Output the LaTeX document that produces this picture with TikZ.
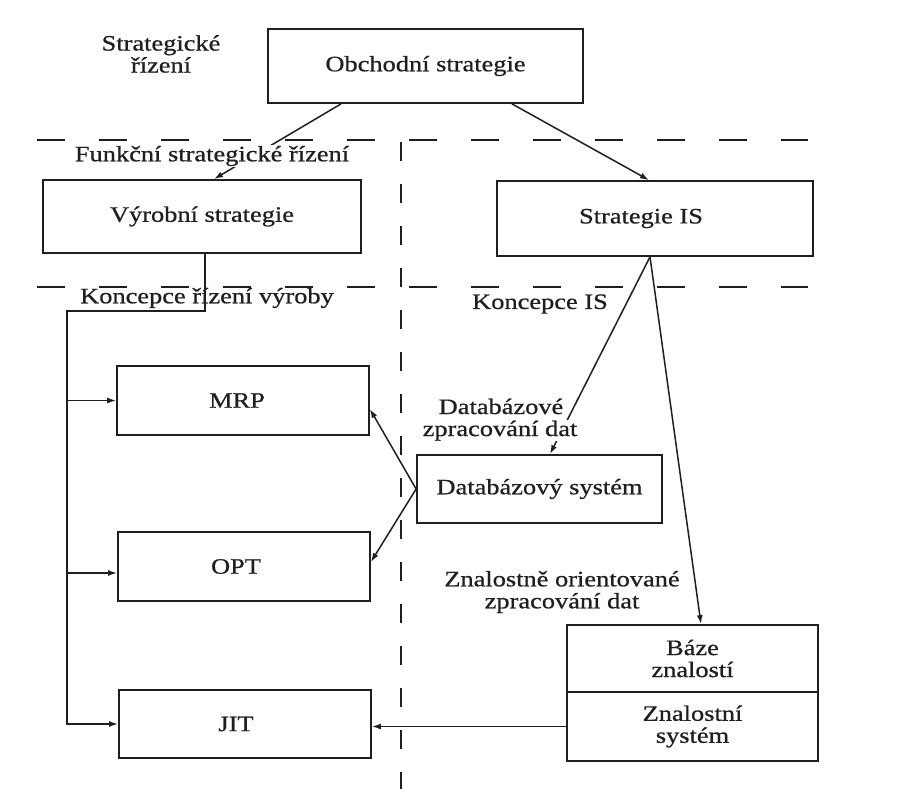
\documentclass[tikz,border=0pt]{standalone}
\usepackage{fontspec}
\setmainfont{Liberation Serif}[FakeStretch=1.2,FakeBold=0.7]
\usetikzlibrary{arrows.meta}
\newcommand\diagfont{\fontsize{22}{22}\selectfont}
\definecolor{ink}{gray}{0.12}
\begin{document}
\begin{tikzpicture}[x=1pt,y=-1pt,
  box/.style={draw=ink, line width=1.8pt, inner sep=0pt, font=\diagfont, text=ink, align=center},
  lbl/.style={inner sep=1pt, font=\diagfont, text=ink, align=center},
  conn/.style={draw=ink, line width=1.5pt},
  arr/.style={conn, -{Latex[length=9pt,width=6pt]}},
  sep/.style={draw=ink, line width=2pt}]
% canvas
\fill[white] (0,0) rectangle (902,789);
\useasboundingbox (0,0) rectangle (902,789);

% boxes
\node[box, minimum width=315pt, minimum height=74pt] (obch) at (425.5,66) {Obchodní strategie};
\node[box, minimum width=318pt, minimum height=73pt] (vyr) at (202,216.5) {Výrobní strategie};
\node[box, minimum width=316pt, minimum height=75pt] (isstr) at (655,218.5) {\hspace*{-28pt}Strategie IS};
\node[box, minimum width=252pt, minimum height=69pt] (mrp) at (243,400.5) {\hspace*{-12pt}MRP};
\node[box, minimum width=252pt, minimum height=69pt] (opt) at (244,566.5) {\hspace*{-16pt}OPT};
\node[box, minimum width=252pt, minimum height=68pt] (jit) at (245,724) {\hspace*{-18pt}JIT};
\node[box, minimum width=245pt, minimum height=68pt] (dbs) at (539.5,489) {Databázový systém};
\node[box, minimum width=251pt, minimum height=67pt] (kbase) at (692.5,658.5) {Báze\\znalostí};
\node[box, minimum width=251pt, minimum height=69pt] (ksys) at (692.5,726.5) {Znalostní\\systém};

% level separators
\draw[sep, dash pattern=on 28pt off 34pt] (37,140) -- (808,140);
\draw[sep, dash pattern=on 28pt off 34pt] (37,287) -- (808,287);
\draw[sep, dash pattern=on 19pt off 23pt] (401,142) -- (401,789);

% connectors
\draw[arr] ([xshift=-84.5pt]obch.south) -- ([xshift=12pt]vyr.north);
\draw[arr] ([xshift=86.5pt]obch.south) -- ([xshift=-6pt]isstr.north);

\coordinate (trunk) at (67,311);
\coordinate (optin) at ([yshift=-6.5pt]opt.west);
\draw[arr] ([xshift=3pt]vyr.south) |- (trunk) |- (jit.west);
\draw[arr] (trunk |- mrp.west) -- (mrp.west);
\draw[arr] (trunk |- optin) -- (optin);

\draw[arr] (dbs.west) -- ([yshift=-8.5pt]mrp.east);
\draw[arr] (dbs.west) -- ([yshift=4.5pt]opt.east);

\coordinate (isfoot) at ([xshift=-5pt]isstr.south);
\draw[arr] (isfoot) -- ([xshift=10.5pt]dbs.north);
\draw[arr] (isfoot) -- ([xshift=8.5pt]kbase.north);
\draw[arr] (ksys.west) -- (ksys.west -| jit.east);

% labels
\node[lbl] (lstrat) at (161,54) {Strategické\\řízení};
\node[lbl, fill=white] (lfunk) at (212,156) {Funkční strategické řízení};
\node[lbl] (lkonv) at (207,298) {Koncepce řízení výroby};
\node[lbl] (lkonis) at (540,304) {Koncepce IS};
\node[lbl, anchor=base] (ldb1) at (501,414) {Databázové};
\node[lbl, fill=white, anchor=base, inner sep=0.5pt] (ldb2) at (500,436) {zpracování dat};
\node[lbl] (lzn) at (562,592) {Znalostně orientované\\zpracování dat};
\end{tikzpicture}
\end{document}
